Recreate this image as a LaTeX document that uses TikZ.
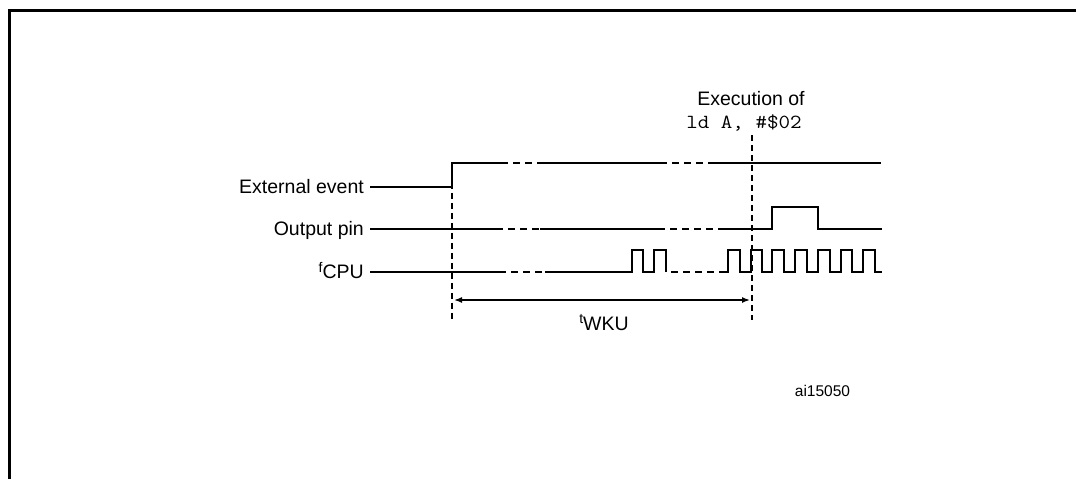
\documentclass[tikz,border=0pt]{standalone}
\usepackage{fontspec}
\setmainfont{Liberation Sans}
\usetikzlibrary{arrows.meta}
\begin{document}
\begin{tikzpicture}[x=1pt,y=-1pt,
  frameline/.style={line width=2.6pt},
  sig/.style={line width=2pt, line join=miter, line cap=butt},
  gapdash/.style={line width=2pt, dash pattern=on 7pt off 5pt, dash phase=7pt},
  vdash/.style={line width=2pt, dash pattern=on 6pt off 4pt},
  lbl/.style={font=\fontsize{19.5}{22}\selectfont, inner sep=0pt},
  code/.style={font=\ttfamily\fontsize{20}{22}\selectfont, inner sep=0pt},
  meas/.style={line width=1.5pt, {Latex[length=8pt,width=6pt]}-{Latex[length=8pt,width=6pt]}}]
\useasboundingbox (0,0) rectangle (1076,479);
% frame
\draw[frameline] (9.7,495) -- (9.7,10.2) -- (1090,10.2);

% labels
\node[lbl, anchor=base east] (ext) at (364,193.3) {External event};
\node[lbl, anchor=base east] (out) at (364,235.8) {Output pin};
\node[lbl, anchor=base east] (fcpu) at (364,278) {\raisebox{6pt}{\fontsize{14}{14}\selectfont f}CPU};
\node[lbl, anchor=base] (exec) at (751,105) {Execution of};
\node[code, anchor=base] (ld) at (744,128) {\scalebox{1.12}[1]{ld A, \#\$02}};
\node[lbl, anchor=base] (twku) at (604,330) {\raisebox{7pt}{\fontsize{14}{14}\selectfont t}WKU};
\node[lbl, font=\fontsize{15.5}{18}\selectfont, anchor=base] (ai) at (822.5,396.7) {ai15050};

% coordinates
\coordinate (e0) at (370,186.5);
\coordinate (o0) at (370,229.3);
\coordinate (f0) at (370,271.7);
\coordinate (vl1) at (452,162.7);
\coordinate (vl2) at (452,322);
\coordinate (vr1) at (752,135);
\coordinate (vr2) at (752,320);
\coordinate (al) at (454,300);
\coordinate (ar) at (750,300);

% External event
\draw[sig] (e0) -- (452,186.5) -- (452,162.7) -- (508,162.7);
\draw[gapdash] (508,162.7) -- (543,162.7);
\draw[sig] (543,162.7) -- (667,162.7);
\draw[gapdash] (667,162.7) -- (715,162.7);
\draw[sig] (715,162.7) -- (881,162.7);

% Output pin
\draw[sig] (o0) -- (503,229.3);
\draw[gapdash] (503,229.3) -- (540,229.3);
\draw[sig] (540,229.3) -- (665,229.3);
\draw[gapdash] (665,229.3) -- (718,229.3);
\draw[sig] (718,229.3) -- (772,229.3) -- (772,207) -- (818,207) -- (818,229.3) -- (882,229.3);

% fCPU
\draw[sig] (f0) -- (506,271.7);
\draw[gapdash] (506,271.7) -- (545,271.7);
\draw[sig] (545,271.7) -- (632,271.7) -- (632,250) -- (643,250) -- (643,271.7)
  -- (654,271.7) -- (654,250) -- (666,250) -- (666,271.7);
\draw[gapdash] (666,271.7) -- (722,271.7);
\draw[sig] (722,271.7) -- (728,271.7)
  -- (728,250) -- (740,250) -- (740,271.7)
  -- (751,271.7) -- (751,250) -- (762,250) -- (762,271.7)
  -- (772,271.7) -- (772,250) -- (784,250) -- (784,271.7)
  -- (795,271.7) -- (795,250) -- (807,250) -- (807,271.7)
  -- (818,271.7) -- (818,250) -- (830,250) -- (830,271.7)
  -- (841,271.7) -- (841,250) -- (852,250) -- (852,271.7)
  -- (863,271.7) -- (863,250) -- (875,250) -- (875,271.7)
  -- (882,271.7);

% vertical markers
\draw[vdash] (vl1) -- (vl2);
\draw[vdash] (vr1) -- (vr2);

% measure arrow
\draw[meas] (al) -- (ar);
\end{tikzpicture}
\end{document}
